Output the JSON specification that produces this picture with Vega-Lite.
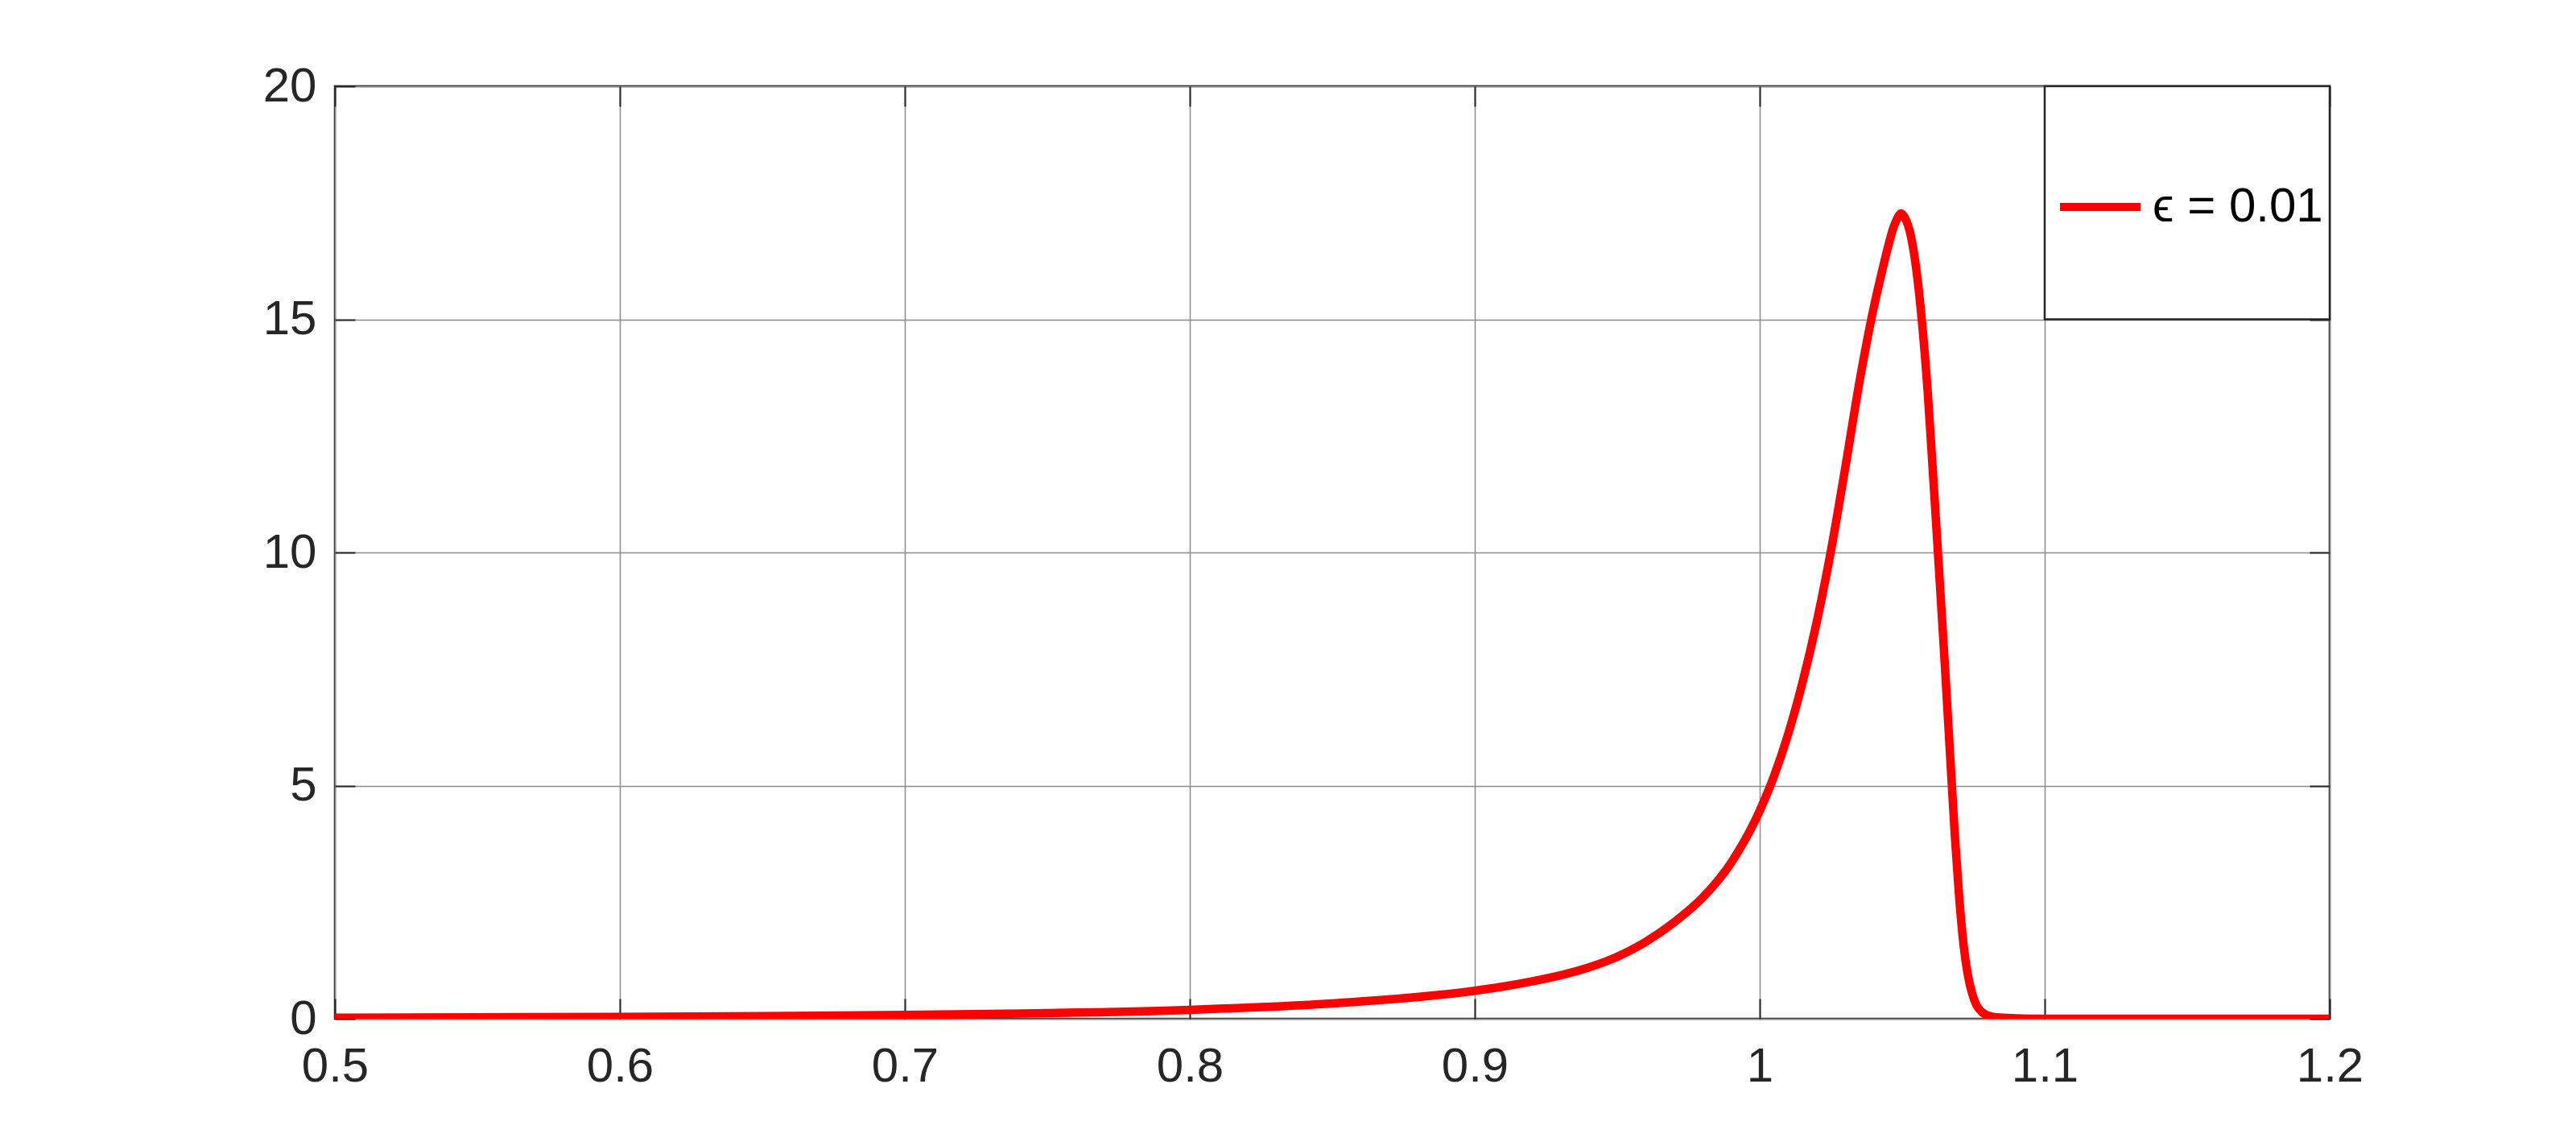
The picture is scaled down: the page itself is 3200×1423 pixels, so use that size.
{
  "$schema": "https://vega.github.io/schema/vega-lite/v6.json",
  "width": 2478,
  "height": 1158,
  "autosize": {"type": "none"},
  "padding": {"left": 416, "top": 107, "right": 306, "bottom": 158},
  "background": "white",
  "config": {
    "view": {"stroke": "#262626", "strokeWidth": 2.5},
    "font": "Liberation Sans"
  },
  "resolve": {"axis": {"x": "independent", "y": "independent"}},
  "layer": [
    {
      "data": {
        "values": [
          {"x": 0.5, "y": 0.02, "series": "ϵ = 0.01"},
          {"x": 0.55, "y": 0.03, "series": "ϵ = 0.01"},
          {"x": 0.6, "y": 0.04, "series": "ϵ = 0.01"},
          {"x": 0.65, "y": 0.055, "series": "ϵ = 0.01"},
          {"x": 0.7, "y": 0.08, "series": "ϵ = 0.01"},
          {"x": 0.75, "y": 0.12, "series": "ϵ = 0.01"},
          {"x": 0.8, "y": 0.19, "series": "ϵ = 0.01"},
          {"x": 0.825, "y": 0.25, "series": "ϵ = 0.01"},
          {"x": 0.85, "y": 0.33, "series": "ϵ = 0.01"},
          {"x": 0.875, "y": 0.44, "series": "ϵ = 0.01"},
          {"x": 0.9, "y": 0.6, "series": "ϵ = 0.01"},
          {"x": 0.91, "y": 0.69, "series": "ϵ = 0.01"},
          {"x": 0.92, "y": 0.8, "series": "ϵ = 0.01"},
          {"x": 0.93, "y": 0.93, "series": "ϵ = 0.01"},
          {"x": 0.94, "y": 1.1, "series": "ϵ = 0.01"},
          {"x": 0.95, "y": 1.33, "series": "ϵ = 0.01"},
          {"x": 0.96, "y": 1.65, "series": "ϵ = 0.01"},
          {"x": 0.97, "y": 2.07, "series": "ϵ = 0.01"},
          {"x": 0.98, "y": 2.6, "series": "ϵ = 0.01"},
          {"x": 0.99, "y": 3.35, "series": "ϵ = 0.01"},
          {"x": 1.0, "y": 4.46, "series": "ϵ = 0.01"},
          {"x": 1.005, "y": 5.2, "series": "ϵ = 0.01"},
          {"x": 1.01, "y": 6.11, "series": "ϵ = 0.01"},
          {"x": 1.015, "y": 7.21, "series": "ϵ = 0.01"},
          {"x": 1.02, "y": 8.51, "series": "ϵ = 0.01"},
          {"x": 1.025, "y": 10.04, "series": "ϵ = 0.01"},
          {"x": 1.03, "y": 11.81, "series": "ϵ = 0.01"},
          {"x": 1.035, "y": 13.66, "series": "ϵ = 0.01"},
          {"x": 1.04, "y": 15.25, "series": "ϵ = 0.01"},
          {"x": 1.043, "y": 16.05, "series": "ϵ = 0.01"},
          {"x": 1.045, "y": 16.55, "series": "ϵ = 0.01"},
          {"x": 1.047, "y": 16.98, "series": "ϵ = 0.01"},
          {"x": 1.048, "y": 17.13, "series": "ϵ = 0.01"},
          {"x": 1.049, "y": 17.24, "series": "ϵ = 0.01"},
          {"x": 1.0495, "y": 17.27, "series": "ϵ = 0.01"},
          {"x": 1.051, "y": 17.17, "series": "ϵ = 0.01"},
          {"x": 1.053, "y": 16.8, "series": "ϵ = 0.01"},
          {"x": 1.055, "y": 16.05, "series": "ϵ = 0.01"},
          {"x": 1.057, "y": 14.9, "series": "ϵ = 0.01"},
          {"x": 1.059, "y": 13.4, "series": "ϵ = 0.01"},
          {"x": 1.061, "y": 11.5, "series": "ϵ = 0.01"},
          {"x": 1.063, "y": 9.55, "series": "ϵ = 0.01"},
          {"x": 1.065, "y": 7.55, "series": "ϵ = 0.01"},
          {"x": 1.067, "y": 5.45, "series": "ϵ = 0.01"},
          {"x": 1.0685, "y": 3.9, "series": "ϵ = 0.01"},
          {"x": 1.07, "y": 2.6, "series": "ϵ = 0.01"},
          {"x": 1.0715, "y": 1.6, "series": "ϵ = 0.01"},
          {"x": 1.073, "y": 0.95, "series": "ϵ = 0.01"},
          {"x": 1.0745, "y": 0.55, "series": "ϵ = 0.01"},
          {"x": 1.076, "y": 0.3, "series": "ϵ = 0.01"},
          {"x": 1.078, "y": 0.14, "series": "ϵ = 0.01"},
          {"x": 1.08, "y": 0.07, "series": "ϵ = 0.01"},
          {"x": 1.083, "y": 0.03, "series": "ϵ = 0.01"},
          {"x": 1.09, "y": 0.01, "series": "ϵ = 0.01"},
          {"x": 1.1, "y": 0.0, "series": "ϵ = 0.01"},
          {"x": 1.15, "y": 0.0, "series": "ϵ = 0.01"},
          {"x": 1.2, "y": 0.0, "series": "ϵ = 0.01"}
        ]
      },
      "mark": {"type": "line", "strokeWidth": 10.5, "interpolate": "monotone", "clip": true},
      "encoding": {
        "x": {
          "field": "x",
          "type": "quantitative",
          "scale": {"domain": [0.5, 1.2], "nice": false, "zero": false},
          "axis": {
            "orient": "bottom",
            "title": null,
            "values": [0.5, 0.6, 0.7, 0.8, 0.9, 1.0, 1.1, 1.2],
            "format": "~g",
            "grid": true,
            "gridColor": "#8c8c8c",
            "gridWidth": 1.5,
            "domain": false,
            "tickSize": -25,
            "tickColor": "#262626",
            "tickWidth": 2,
            "labelFontSize": 60,
            "labelColor": "#262626",
            "labelPadding": 55,
            "labelFlush": false
          }
        },
        "y": {
          "field": "y",
          "type": "quantitative",
          "scale": {"domain": [0, 20], "nice": false},
          "axis": {
            "orient": "left",
            "title": null,
            "values": [0, 5, 10, 15, 20],
            "grid": true,
            "gridColor": "#8c8c8c",
            "gridWidth": 1.5,
            "domain": false,
            "tickSize": -25,
            "tickColor": "#262626",
            "tickWidth": 2,
            "labelFontSize": 60,
            "labelColor": "#262626",
            "labelPadding": 48,
            "labelFlush": false
          }
        },
        "color": {
          "field": "series",
          "type": "nominal",
          "scale": {"range": ["#ff0000"]},
          "legend": {
            "orient": "none",
            "legendX": 2138,
            "legendY": 95,
            "title": null,
            "padding": 0,
            "symbolType": "stroke",
            "symbolSize": 10000,
            "symbolStrokeWidth": 10,
            "labelFontSize": 60,
            "labelColor": "#000000",
            "labelOffset": 10,
            "labelLimit": 600
          }
        }
      }
    },
    {
      "data": {"values": [{}]},
      "mark": {"type": "rect", "fill": "white", "stroke": "#262626", "strokeWidth": 2.5},
      "encoding": {
        "x": {
          "datum": 1.1,
          "type": "quantitative",
          "axis": {
            "orient": "top",
            "title": null,
            "values": [0.5, 0.6, 0.7, 0.8, 0.9, 1.0, 1.1, 1.2],
            "labels": false,
            "grid": false,
            "domain": false,
            "tickSize": -25,
            "tickColor": "#262626",
            "tickWidth": 2
          }
        },
        "x2": {"datum": 1.2},
        "y": {
          "datum": 15,
          "type": "quantitative",
          "axis": {
            "orient": "right",
            "title": null,
            "values": [0, 5, 10, 15, 20],
            "labels": false,
            "grid": false,
            "domain": false,
            "tickSize": -25,
            "tickColor": "#262626",
            "tickWidth": 2
          }
        },
        "y2": {"datum": 20}
      }
    }
  ]
}
